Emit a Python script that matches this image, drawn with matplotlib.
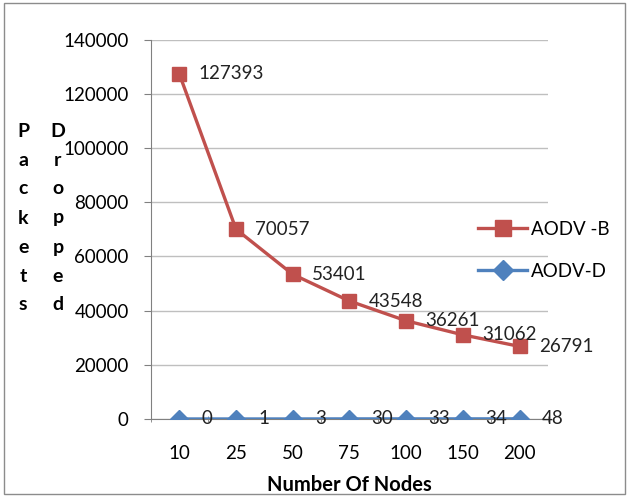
import matplotlib.pyplot as plt
from matplotlib.patches import Rectangle

plt.rcParams['font.family'] = ['Lato', 'DejaVu Sans']

nodes = ['10', '25', '50', '75', '100', '150', '200']
aodv_b = [127393, 70057, 53401, 43548, 36261, 31062, 26791]
aodv_d = [0, 1, 3, 30, 33, 34, 48]
y_ticks = [0, 20000, 40000, 60000, 80000, 100000, 120000, 140000]

red = '#C0504D'
blue = '#4F81BD'
fs = 13.5

fig = plt.figure(figsize=(6.29, 4.97), dpi=100)
ax = fig.add_axes([0.240, 0.157, 0.631, 0.763])

x = list(range(len(nodes)))
ax.plot(x, aodv_b, color=red, lw=2.4, marker='s', ms=10.5, label='AODV -B', zorder=3)
ax.plot(x, aodv_d, color=blue, lw=2.4, marker='D', ms=9.5, label='AODV-D', zorder=3)

# value labels to the right of each point
for xi, v in zip(x, aodv_b):
    ax.annotate(str(v), (xi, v), xytext=(14, 0), textcoords='offset points',
                va='center', ha='left', fontsize=fs, color='#222222')
for xi, v in zip(x, aodv_d):
    ax.annotate(str(v), (xi, v), xytext=(16, 0), textcoords='offset points',
                va='center', ha='left', fontsize=fs, color='#222222')

ax.set_xlim(-0.5, len(nodes) - 0.5)
ax.set_ylim(0, 140000)
ax.set_yticks(y_ticks)
ax.set_yticklabels([str(t) for t in y_ticks], fontsize=fs)
ax.set_xticks(x)
ax.set_xticklabels(nodes, fontsize=fs)
ax.set_xticks([i - 0.5 for i in range(len(nodes) + 1)], minor=True)
ax.tick_params(axis='x', which='major', length=0, pad=19)
ax.tick_params(axis='x', which='minor', length=5, color='#808080', direction='inout')
ax.tick_params(axis='y', length=5, color='#808080', pad=11)

ax.grid(axis='y', color='#BFBFBF', lw=1)
ax.set_axisbelow(True)
for s in ['top', 'right']:
    ax.spines[s].set_visible(False)
ax.spines['left'].set_color('#808080')
ax.spines['bottom'].set_color('#808080')

ax.set_xlabel('Number Of Nodes', fontsize=14.5, fontweight='bold', labelpad=9)

# stacked-letter y label
for col, word in zip([0.037, 0.092], ['Packets', 'Dropped']):
    for i, ch in enumerate(word):
        fig.text(col, 1 - (131 + i * 29) / 497, ch, fontsize=14, fontweight='bold',
                 ha='center', va='center')

ax.legend(loc='center left', bbox_to_anchor=(0.782, 0.445), frameon=False,
          fontsize=fs, handlelength=2.6, labelspacing=1.35, handletextpad=0.2,
          markerscale=1.1)

fig.patches.append(Rectangle((0.006, 0.006), 0.988, 0.988, transform=fig.transFigure,
                             fill=False, edgecolor='#8C8C8C', lw=1))

fig.savefig('out.png', dpi=100)
